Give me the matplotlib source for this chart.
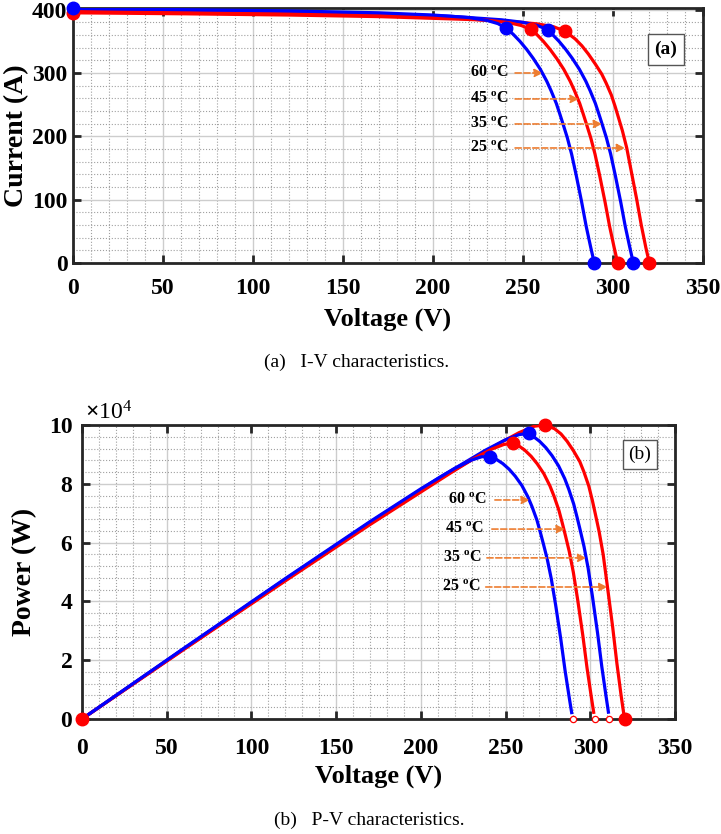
import matplotlib
matplotlib.use('Agg')
import matplotlib.pyplot as plt
from matplotlib.ticker import MultipleLocator, FuncFormatter

plt.rcParams['font.family'] = 'Liberation Serif'
plt.rcParams['font.weight'] = 'bold'
plt.rcParams['axes.labelweight'] = 'bold'
plt.rcParams['mathtext.fontset'] = 'custom'
plt.rcParams['mathtext.rm'] = 'Liberation Serif'
plt.rcParams['mathtext.bf'] = 'Liberation Serif:bold'

# I-V curves (voltage in V, current in A)
iv_v_60 = [0, 60, 120, 170, 200, 220, 230, 236, 240.6, 244.6, 248.3, 252.1, 255.7, 259.6, 263.2, 265.6,
           268.5, 270.6, 272.4, 274.6, 277, 279.6, 282.6, 285.1, 287.6, 289.6]
iv_i_60 = [402, 400, 398, 395, 391.5, 387.5, 383, 378, 371, 361, 350, 337, 323, 306, 287, 272,
           252, 234, 218, 198, 172, 138, 96, 58, 25, 0]
iv_v_45 = [0, 60, 120, 170, 210, 230, 242, 249, 254.3, 257.6, 261.3, 265.1, 268.7, 272.6, 276.2, 278.6,
           281.5, 283.6, 285.4, 287.6, 290, 292.6, 295.6, 298.1, 300.6, 302.6]
iv_i_45 = [397, 395.5, 393.5, 391, 387, 383.5, 379.5, 375, 369, 361, 350, 337, 323, 306, 287, 272,
           252, 234, 218, 198, 172, 138, 96, 58, 25, 0]
iv_v_35 = [0, 60, 120, 170, 210, 238, 250, 258, 264, 266.3, 270, 273.8, 277.4, 281.3, 284.9, 287.3,
           290.2, 292.3, 294.1, 296.3, 298.7, 301.3, 304.3, 306.8, 309.3, 311.3]
iv_i_35 = [400, 398.5, 396.5, 393.5, 389.5, 384, 380, 375, 368, 361, 350, 337, 323, 306, 287, 272,
           252, 234, 218, 198, 172, 138, 96, 58, 25, 0]
iv_v_25 = [0, 60, 120, 170, 220, 245, 258, 267, 273.3, 275.2, 278.9, 282.7, 286.3, 290.2, 293.8, 296.2,
           299.1, 301.2, 303, 305.2, 307.6, 310.2, 313.2, 315.7, 318.2, 320.2]
iv_i_25 = [395, 393.5, 391.5, 389, 384.5, 381, 377.5, 373, 366, 362, 354, 343, 330, 314, 298, 284,
           265, 247, 230, 209, 182, 144, 100, 60, 25, 0]

# P-V curves (voltage in V, power in W)
pv_v_60 = [0, 60, 120, 170, 200, 220, 230, 236, 240.6, 244.6, 248.3, 252.1, 255.7, 259.6, 263.2, 265.6,
           268.5, 270.6, 272.4, 274.6, 277, 279.6, 282.6, 285.1, 287.6, 289.0]
pv_p_60 = [0, 24000, 47760, 67150, 78300, 85250, 88090, 89210, 89260, 88300, 86900, 84960, 82590, 79440,
           75540, 72240, 67660, 63320, 59380, 54370, 47640, 38590, 27130, 16540, 7190, 2170]
pv_v_45 = [0, 60, 120, 170, 210, 230, 242, 249, 254.3, 257.6, 261.3, 265.1, 268.7, 272.6, 276.2, 278.6,
           281.5, 283.6, 285.4, 287.6, 290, 292.6, 295.6, 298.1, 300.6, 302.0]
pv_p_45 = [0, 23730, 47220, 66470, 81270, 88210, 91840, 93380, 93840, 92990, 91460, 89340, 86790, 83420,
           79270, 75780, 70940, 66360, 62220, 56940, 49880, 40380, 28380, 17290, 7520, 2270]
pv_v_35 = [0, 60, 120, 170, 210, 238, 250, 258, 264, 266.3, 270, 273.8, 277.4, 281.3, 284.9, 287.3,
           290.2, 292.3, 294.1, 296.3, 298.7, 301.3, 304.3, 306.8, 309.3, 310.7]
pv_p_35 = [0, 23910, 47580, 66900, 81800, 91390, 95000, 96750, 97150, 96130, 94500, 92270, 89600, 86080,
           81770, 78150, 73130, 68400, 64110, 58670, 51380, 41580, 29210, 17790, 7730, 2330]
pv_v_25 = [0, 60, 120, 170, 220, 245, 258, 267, 273.3, 275.2, 278.9, 282.7, 286.3, 290.2, 293.8, 296.2,
           299.1, 301.2, 303, 305.2, 307.6, 310.2, 313.2, 315.7, 318.2, 320.2]
pv_p_25 = [0, 23610, 46980, 66130, 84590, 93350, 97400, 99590, 100030, 99620, 98730, 96970, 94480, 91120,
           87550, 84120, 79260, 74400, 69690, 63790, 55980, 44670, 31320, 18940, 7960, 0]

MPP = 8  # index of the maximum power point in every series

temps = ['60', '45', '35', '25']
iv_arrow_x = [261, 281, 293.9, 306.7]
iv_arrow_y = [300, 259, 219.5, 181.6]
pv_arrow_x = [264.3, 285, 297.6, 310.1]
pv_arrow_y = [74500, 64600, 54800, 44900]
pv_text_x = [239, 237, 236, 235.4]
pv_start_x = [243.7, 241.9, 239, 238.3]

RED = '#ff0000'
BLUE = '#0000ff'
ORANGE = '#ed7d31'

fig = plt.figure(figsize=(7.21, 8.34), dpi=100)
ax1 = fig.add_axes([73/721, 1-263/834, 630/721, 255/834])
ax2 = fig.add_axes([82/721, 1-719/834, 593/721, 294/834])


def style_axes(ax, xpad, ypad):
    ax.set_axisbelow(True)
    ax.grid(which='major', color='#cdcdcd', lw=1.0, ls='-')
    ax.grid(which='minor', color='#a0a0a0', lw=0.8, ls=':')
    ax.tick_params(which='major', direction='in', top=True, right=True,
                   width=2, length=6, labelsize=17, color='#262626')
    ax.tick_params(axis='x', pad=xpad)
    ax.tick_params(axis='y', pad=ypad)
    ax.tick_params(which='minor', length=0)
    for s in ax.spines.values():
        s.set_linewidth(2)
        s.set_color('#262626')


# ---- (a) I-V ----
iv = [(iv_v_25, iv_i_25, RED), (iv_v_35, iv_i_35, BLUE),
      (iv_v_45, iv_i_45, RED), (iv_v_60, iv_i_60, BLUE)]
for v, i, c in iv:
    ax1.plot(v, i, color=c, lw=2.3, zorder=3)
for v, i, c in iv:
    ax1.plot([v[MPP], v[-1]], [i[MPP], i[-1]], 'o', color=c, ms=9, zorder=4, clip_on=False)
ax1.plot(iv_v_25[0], iv_i_25[0], 'o', color=RED, ms=9, zorder=4, clip_on=False)
ax1.plot(iv_v_60[0], iv_i_60[0], 'o', color=BLUE, ms=9, zorder=5, clip_on=False)

ax1.set_xlim(0, 350)
ax1.set_ylim(0, 402.6)
ax1.xaxis.set_major_locator(MultipleLocator(50))
ax1.xaxis.set_minor_locator(MultipleLocator(10))
ax1.yaxis.set_major_locator(MultipleLocator(100))
ax1.yaxis.set_minor_locator(MultipleLocator(20))
style_axes(ax1, 11, 4)
ax1.set_xlabel('Voltage (V)', fontsize=19, labelpad=6)
ax1.set_ylabel('Current (A)', fontsize=20, labelpad=2)

for t, ax_, ay_ in zip(temps, iv_arrow_x, iv_arrow_y):
    ax1.annotate('', xy=(ax_, ay_), xytext=(245.6, ay_),
                 arrowprops=dict(arrowstyle='-|>', color=ORANGE, ls='--', lw=1.2,
                                 mutation_scale=12, shrinkA=0, shrinkB=0), zorder=5)
    ax1.text(241.7, ay_, t + r' $^{\mathbf{o}}$C', ha='right', va='center',
             fontsize=11.5, zorder=6)

ax1.text(0.941, 0.839, '(a)', transform=ax1.transAxes, ha='center', va='center',
         fontsize=14, bbox=dict(boxstyle='square,pad=0.35', fc='white', ec='#555555', lw=1))

# ---- (b) P-V ----
pv = [(pv_v_25, pv_p_25, RED), (pv_v_35, pv_p_35, BLUE),
      (pv_v_45, pv_p_45, RED), (pv_v_60, pv_p_60, BLUE)]
for v, p, c in pv:
    ax2.plot(v, p, color=c, lw=2.3, zorder=3)
for v, p, c in pv:
    ax2.plot(v[MPP], p[MPP], 'o', color=c, ms=9, zorder=4, clip_on=False)
ax2.plot(pv_v_25[0], pv_p_25[0], 'o', color=RED, ms=9, zorder=5, clip_on=False)
ax2.plot(pv_v_25[-1], pv_p_25[-1], 'o', color=RED, ms=9, zorder=5, clip_on=False)
ax2.plot([iv_v_60[-1], iv_v_45[-1], iv_v_35[-1]], [0, 0, 0], 'o', mfc='white', mec=RED,
         ms=4.5, mew=0.9, zorder=5, clip_on=False)

ax2.set_xlim(0, 350)
ax2.set_ylim(0, 100000)
ax2.xaxis.set_major_locator(MultipleLocator(50))
ax2.xaxis.set_minor_locator(MultipleLocator(10))
ax2.yaxis.set_major_locator(MultipleLocator(20000))
ax2.yaxis.set_minor_locator(MultipleLocator(4000))
ax2.yaxis.set_major_formatter(FuncFormatter(lambda y, _: f'{y/1e4:g}'))
style_axes(ax2, 14, 7)
ax2.set_xlabel('Voltage (V)', fontsize=19, labelpad=4)
ax2.set_ylabel('Power (W)', fontsize=20, labelpad=8)
fig.text(85/721, 1-420/834, r'$\times\mathregular{10^{4}}$', ha='left', va='baseline',
         fontsize=17, fontweight='normal')

for t, tx, sx, ax_, ay_ in zip(temps, pv_text_x, pv_start_x, pv_arrow_x, pv_arrow_y):
    ax2.annotate('', xy=(ax_, ay_), xytext=(sx, ay_),
                 arrowprops=dict(arrowstyle='-|>', color=ORANGE, ls='--', lw=1.2,
                                 mutation_scale=12, shrinkA=0, shrinkB=0), zorder=5)
    ax2.text(tx, ay_, t + r' $^{\mathbf{o}}$C', ha='right', va='center',
             fontsize=11.5, zorder=6)

ax2.text(0.941, 0.901, '(b)', transform=ax2.transAxes, ha='center', va='center',
         fontsize=14, fontweight='normal',
         bbox=dict(boxstyle='square,pad=0.3', fc='white', ec='#555555', lw=1))

fig.text(357/721, 1-362/834, '(a)   I-V characteristics.', ha='center', va='center',
         fontsize=14, fontweight='normal')
fig.text(369/721, 1-820/834, '(b)   P-V characteristics.', ha='center', va='center',
         fontsize=14, fontweight='normal')

fig.savefig('out.png', dpi=100)
